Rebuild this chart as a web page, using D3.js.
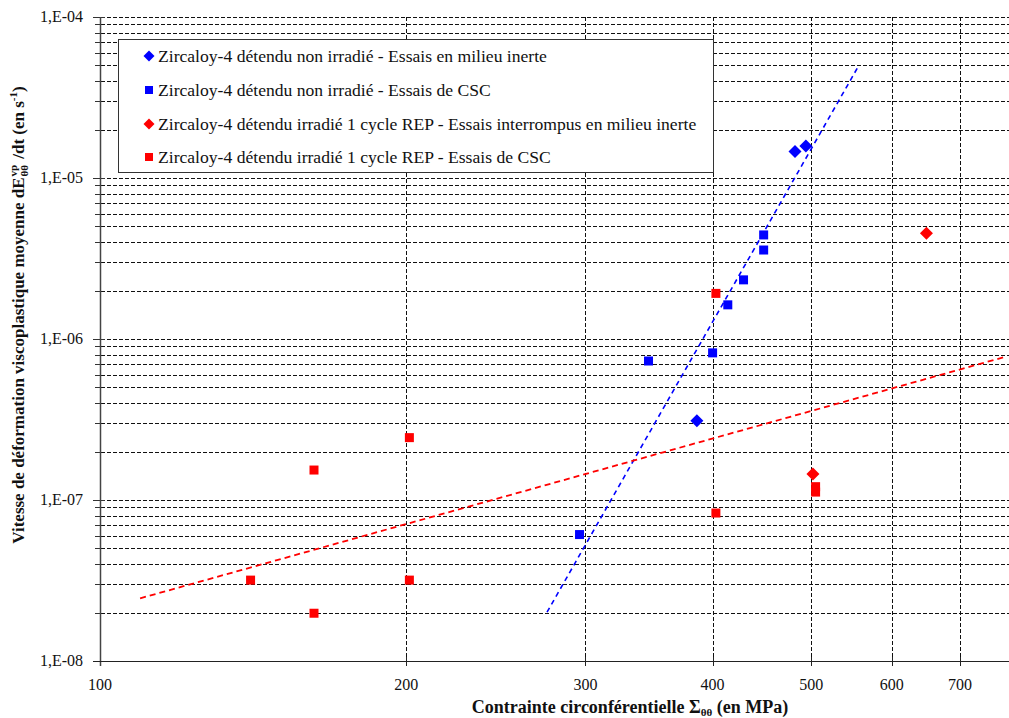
<!DOCTYPE html>
<html><head><meta charset="utf-8">
<script src="https://cdn.jsdelivr.net/npm/d3@7"></script>
<style>
html,body{margin:0;padding:0;background:#fff;}
svg{display:block;}
</style></head>
<body>
<svg id="chart" width="1009" height="718" font-family="Liberation Serif, Times New Roman, serif"></svg>
<script>
// ---------- data ----------
const xTickValues = [100, 200, 300, 400, 500, 600, 700];
const yTickValues = [1e-8, 1e-7, 1e-6, 1e-5, 1e-4];
const yTickLabels = ["1,E-08", "1,E-07", "1,E-06", "1,E-05", "1,E-04"];

const seriesNames = [
  "Zircaloy-4 détendu non irradié - Essais en milieu inerte",
  "Zircaloy-4 détendu non irradié - Essais de CSC",
  "Zircaloy-4 détendu irradié 1 cycle REP - Essais interrompus en milieu inerte",
  "Zircaloy-4 détendu irradié 1 cycle REP - Essais de CSC"
];
const blueInertX = [386, 482, 494];
const blueInertY = [3.11e-7, 1.46e-5, 1.58e-5];
const blueCscX = [296, 346, 400, 414, 429, 449, 449];
const blueCscY = [6.1e-8, 7.3e-7, 8.2e-7, 1.63e-6, 2.33e-6, 4.43e-6, 3.57e-6];
const redInertX = [502, 649];
const redInertY = [1.45e-7, 4.53e-6];
const redCscX = [140.6, 162.3, 162.3, 201.4, 201.4, 403, 403, 505, 505];
const redCscY = [3.18e-8, 1.535e-7, 1.98e-8, 2.44e-7, 3.18e-8, 1.92e-6, 8.3e-8, 1.21e-7, 1.12e-7];
const blueFitX = [275, 556];
const blueFitY = [2.01e-8, 4.91e-5];
const redFitX = [109.5, 775];
const redFitY = [2.45e-8, 7.74e-7];

(function () {
// ---------- layout ----------
const svg = d3.select("#chart");
const pLeft = 100, pTop = 17, pBottom = 661;
const x = d3.scaleLog().domain([100, 1000]).range([pLeft, pLeft + 1017.5]);
const y = d3.scaleLog().domain([1e-8, 1e-4]).range([pBottom, pTop]);
const rightEdge = 1009;
const BLUE = "#0000ff", RED = "#ff0000";

// gridlines horizontal (1..9 x decades)
const hGrid = [];
for (let e = -8; e <= -5; e++) for (let m = 1; m <= 9; m++) {
  const v = m * Math.pow(10, e);
  if (m > 1 || e > -8) hGrid.push(v);
}
hGrid.push(1e-4);
svg.append("g").selectAll("line").data(hGrid).join("line")
  .attr("x1", pLeft + 1).attr("x2", rightEdge)
  .attr("y1", d => Math.round(y(d)) + 0.5).attr("y2", d => Math.round(y(d)) + 0.5)
  .attr("stroke", "#111").attr("stroke-width", 1).attr("stroke-dasharray", "4,2");

// vertical gridlines
const vGrid = [200, 300, 400, 500, 600, 700, 800, 900];
svg.append("g").selectAll("line").data(vGrid).join("line")
  .attr("x1", d => Math.round(x(d)) + 0.5).attr("x2", d => Math.round(x(d)) + 0.5)
  .attr("y1", pTop).attr("y2", pBottom)
  .attr("stroke", "#111").attr("stroke-width", 1).attr("stroke-dasharray", "4,2");

// y axis
const isDecade = v => Math.abs(Math.log10(v) - Math.round(Math.log10(v))) < 1e-9;
const yMinor = hGrid.filter(v => !isDecade(v));
svg.append("g").selectAll("line").data(yMinor).join("line")
  .attr("x1", pLeft - 5).attr("x2", pLeft)
  .attr("y1", d => Math.round(y(d)) + 0.5).attr("y2", d => Math.round(y(d)) + 0.5)
  .attr("stroke", "#333").attr("stroke-width", 1);
svg.append("g").selectAll("line").data(yTickValues).join("line")
  .attr("x1", pLeft - 7).attr("x2", pLeft + 5)
  .attr("y1", d => Math.round(y(d)) + 0.5).attr("y2", d => Math.round(y(d)) + 0.5)
  .attr("stroke", "#333").attr("stroke-width", 1);
svg.append("line").attr("x1", pLeft + 0.5).attr("x2", pLeft + 0.5)
  .attr("y1", pTop).attr("y2", pBottom + 5).attr("stroke", "#444").attr("stroke-width", 1.5);
svg.append("g").selectAll("text").data(yTickValues).join("text")
  .attr("x", 83).attr("y", d => y(d) + 5)
  .attr("text-anchor", "end").attr("font-size", 16).attr("fill", "#111")
  .text((d, i) => yTickLabels[i]);

// x axis
svg.append("line").attr("x1", pLeft - 7).attr("x2", rightEdge)
  .attr("y1", pBottom + 0.5).attr("y2", pBottom + 0.5).attr("stroke", "#222").attr("stroke-width", 1);
svg.append("g").selectAll("line").data(xTickValues.slice(1)).join("line")
  .attr("x1", d => Math.round(x(d)) + 0.5).attr("x2", d => Math.round(x(d)) + 0.5)
  .attr("y1", pBottom - 4).attr("y2", pBottom + 5)
  .attr("stroke", "#222").attr("stroke-width", 1);
svg.append("g").selectAll("text").data(xTickValues).join("text")
  .attr("x", d => x(d)).attr("y", 690)
  .attr("text-anchor", "middle").attr("font-size", 16).attr("fill", "#111")
  .text(d => d);

// x title
const xt = svg.append("text").attr("x", 630).attr("y", 713).attr("text-anchor", "middle")
  .attr("font-size", 18).attr("font-weight", "bold").attr("fill", "#111");
xt.append("tspan").text("Contrainte circonférentielle Σ");
xt.append("tspan").attr("font-size", 11).attr("dy", 3).text("θθ");
xt.append("tspan").attr("dy", -3).text(" (en MPa)");

// y title (rotated) built from pieces
const yg = svg.append("g").attr("transform", "translate(24,315) rotate(-90)");
const yInner = yg.append("g");
const tStyle = s => s.attr("font-weight", "bold").attr("fill", "#111");
let cx = 0;
const p1 = tStyle(yInner.append("text").attr("x", 0).attr("y", 0).attr("font-size", 17))
  .text("Vitesse de déformation viscoplastique moyenne dE");
cx += p1.node().getComputedTextLength();
const sup = tStyle(yInner.append("text").attr("x", cx + 1).attr("y", -7).attr("font-size", 11)).text("vp");
const sub = tStyle(yInner.append("text").attr("x", cx + 1).attr("y", 4).attr("font-size", 11)).text("θθ");
cx += Math.max(sup.node().getComputedTextLength(), sub.node().getComputedTextLength()) + 7;
const p2 = tStyle(yInner.append("text").attr("x", cx).attr("y", 0).attr("font-size", 17)).text("/dt (en s");
cx += p2.node().getComputedTextLength();
const sup2 = tStyle(yInner.append("text").attr("x", cx).attr("y", -7).attr("font-size", 11)).text("-1");
cx += sup2.node().getComputedTextLength();
const p3 = tStyle(yInner.append("text").attr("x", cx).attr("y", 0).attr("font-size", 17)).text(")");
cx += p3.node().getComputedTextLength();
yInner.attr("transform", `translate(${-cx / 2},0)`);

// trend lines
const line = d3.line().x(d => x(d[0])).y(d => y(d[1]));
svg.append("path").datum(blueFitX.map((v, i) => [v, blueFitY[i]]))
  .attr("d", line).attr("fill", "none").attr("stroke", BLUE).attr("stroke-width", 1.6)
  .attr("stroke-dasharray", "5,4");
svg.append("path").datum(redFitX.map((v, i) => [v, redFitY[i]]))
  .attr("d", line).attr("fill", "none").attr("stroke", RED).attr("stroke-width", 1.8)
  .attr("stroke-dasharray", "6,4");

// markers
const diamond = (cx, cy, r) => `M${cx},${cy - r}L${cx + r},${cy}L${cx},${cy + r}L${cx - r},${cy}Z`;
function drawDiamonds(xs, ys, color) {
  svg.append("g").selectAll("path").data(xs.map((v, i) => [v, ys[i]])).join("path")
    .attr("d", d => diamond(x(d[0]), y(d[1]), 6.5)).attr("fill", color);
}
function drawSquares(xs, ys, color) {
  svg.append("g").selectAll("rect").data(xs.map((v, i) => [v, ys[i]])).join("rect")
    .attr("x", d => x(d[0]) - 4.5).attr("y", d => y(d[1]) - 4.5)
    .attr("width", 9).attr("height", 9).attr("fill", color);
}
drawDiamonds(blueInertX, blueInertY, BLUE);
drawSquares(blueCscX, blueCscY, BLUE);
drawDiamonds(redInertX, redInertY, RED);
drawSquares(redCscX, redCscY, RED);

// legend
const lg = svg.append("g");
lg.append("rect").attr("x", 118.5).attr("y", 39.5).attr("width", 595).attr("height", 133)
  .attr("fill", "#fff").attr("stroke", "#333").attr("stroke-width", 1);
const legendColors = [BLUE, BLUE, RED, RED];
const legendShapes = ["diamond", "square", "diamond", "square"];
const rowY = [56, 90, 124, 157];
seriesNames.forEach((name, i) => {
  if (legendShapes[i] === "diamond") {
    lg.append("path").attr("d", diamond(149, rowY[i], 5.5)).attr("fill", legendColors[i]);
  } else {
    lg.append("rect").attr("x", 145).attr("y", rowY[i] - 4).attr("width", 8).attr("height", 8)
      .attr("fill", legendColors[i]);
  }
  lg.append("text").attr("x", 158).attr("y", rowY[i] + 5.5).attr("font-size", 17.6)
    .attr("fill", "#111").text(name);
});
})();
</script>
</body></html>
